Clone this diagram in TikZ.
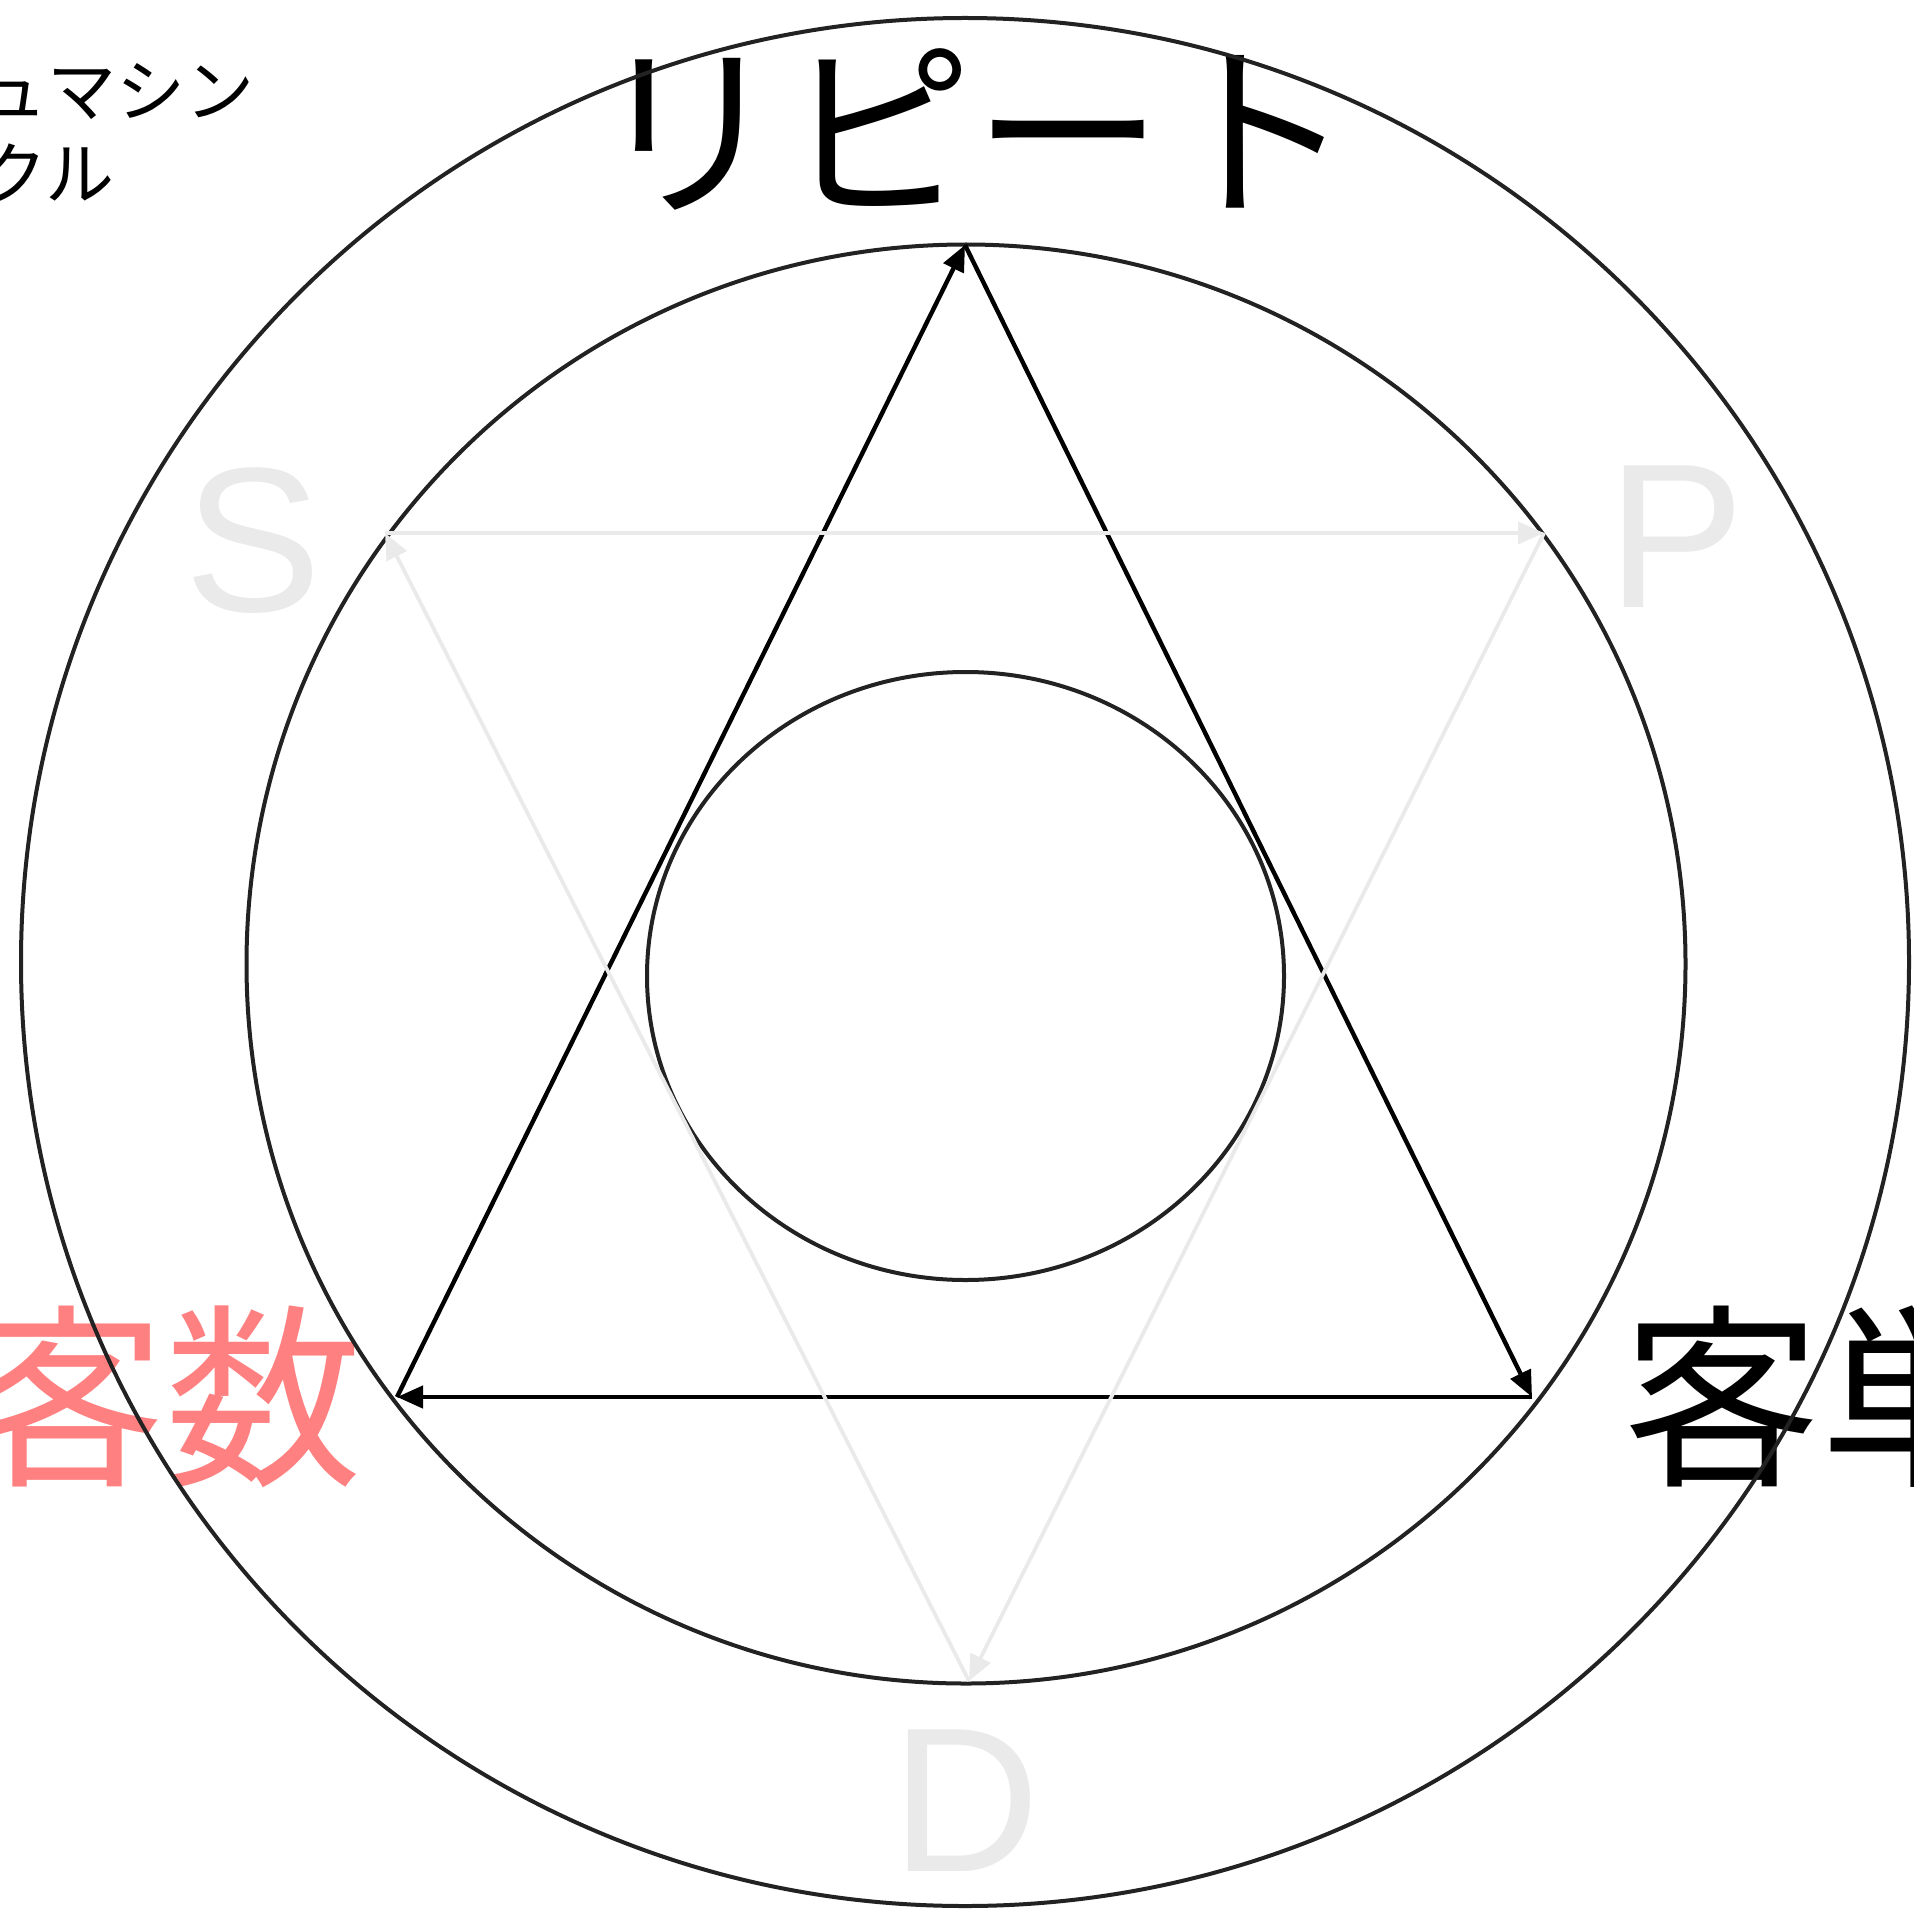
\documentclass[tikz,border=0pt]{standalone}
\usepackage{fontspec}
\newfontfamily\jpfont{Noto Sans CJK JP}
\newfontfamily\latfont{Liberation Sans}
\usetikzlibrary{arrows.meta}
\definecolor{ringcol}{HTML}{222222}
\definecolor{palegray}{HTML}{EAEAEA}
\definecolor{pinktext}{HTML}{FF8080}
\tikzset{
  ring/.style={draw=ringcol, line width=2pt},
  blackarrow/.style={draw=black, line width=2.2pt, -{Triangle[length=13pt,width=11pt]}},
  grayarrow/.style={draw=palegray, line width=1.9pt, -{Triangle[length=13pt,width=11pt]}},
  bigjp/.style={inner sep=0pt, font=\jpfont\fontsize{95pt}{100pt}\selectfont},
  sidejp/.style={inner sep=0pt, font=\jpfont\fontsize{98.5pt}{100pt}\selectfont},
  smalljp/.style={inner sep=0pt, font=\jpfont\fontsize{34.5pt}{40pt}\selectfont, anchor=base west},
  letter/.style={inner sep=0pt, text=palegray, font=\latfont\fontsize{103pt}{105pt}\selectfont, anchor=base},
}
\begin{document}
\begin{tikzpicture}[x=0.5pt, y=-0.5pt]
\useasboundingbox (0,0) rectangle (1913,1915);
% texts
\node[bigjp, anchor=base] (repeat) at (973,203) {リピート};
\node[sidejp, anchor=base west, text=pinktext] (leftlabel) at (-32,1471) {客数};
\node[sidejp, anchor=base west] (rightlabel) at (1623,1471) {客単};
\node[smalljp] (tl1) at (-22,117) {ュマシン};
\node[smalljp] (tl2) at (-22,200) {クル};
\node[letter] (Slab) at (253,611) {S};
\node[letter] (Plab) at (1676,607) {P};
\node[letter] (Dlab) at (966,1871) {D};
% circles
\draw[ring] (965,962) circle[radius=944];
\draw[ring] (966,964) circle[radius=719.5];
\draw[ring] (965.5,976) ellipse[x radius=318.5, y radius=304];
% vertices
\coordinate (A) at (965,245);
\coordinate (BL) at (397,1397);
\coordinate (BR) at (1532,1397);
\coordinate (S) at (385,533);
\coordinate (P) at (1544,533);
\coordinate (D) at (969,1681);
% black triangle
\draw[blackarrow] (BL) -- (A);
\draw[blackarrow] (A) -- (BR);
\draw[blackarrow] (BR) -- (BL);
% gray triangle
\draw[grayarrow] (S) -- (P);
\draw[grayarrow] (P) -- (D);
\draw[grayarrow] (D) -- (S);
\end{tikzpicture}
\end{document}
